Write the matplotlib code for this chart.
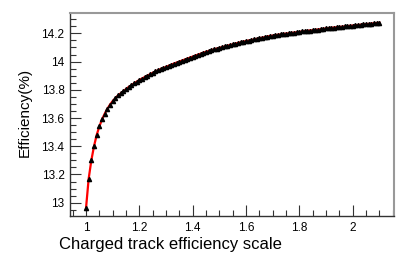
"""
Efficiency vs charged track efficiency scale.
"""

import numpy as np
import matplotlib
matplotlib.use('Agg')
import matplotlib.pyplot as plt
from matplotlib.ticker import MultipleLocator

plt.rcParams['font.family'] = ['Liberation Sans', 'DejaVu Sans']

# scale factor, 1.00 .. 2.10 in steps of 0.01
scale = [
    1.00, 1.01, 1.02, 1.03, 1.04, 1.05, 1.06, 1.07, 1.08, 1.09,
    1.10, 1.11, 1.12, 1.13, 1.14, 1.15, 1.16, 1.17, 1.18, 1.19,
    1.20, 1.21, 1.22, 1.23, 1.24, 1.25, 1.26, 1.27, 1.28, 1.29,
    1.30, 1.31, 1.32, 1.33, 1.34, 1.35, 1.36, 1.37, 1.38, 1.39,
    1.40, 1.41, 1.42, 1.43, 1.44, 1.45, 1.46, 1.47, 1.48, 1.49,
    1.50, 1.51, 1.52, 1.53, 1.54, 1.55, 1.56, 1.57, 1.58, 1.59,
    1.60, 1.61, 1.62, 1.63, 1.64, 1.65, 1.66, 1.67, 1.68, 1.69,
    1.70, 1.71, 1.72, 1.73, 1.74, 1.75, 1.76, 1.77, 1.78, 1.79,
    1.80, 1.81, 1.82, 1.83, 1.84, 1.85, 1.86, 1.87, 1.88, 1.89,
    1.90, 1.91, 1.92, 1.93, 1.94, 1.95, 1.96, 1.97, 1.98, 1.99,
    2.00, 2.01, 2.02, 2.03, 2.04, 2.05, 2.06, 2.07, 2.08, 2.09,
    2.10,
]

# efficiency in percent
efficiency = [
    12.960, 13.170, 13.300, 13.400, 13.480, 13.540, 13.590, 13.630, 13.665, 13.695,
    13.720, 13.740, 13.760, 13.775, 13.790, 13.805, 13.820, 13.832, 13.845, 13.857,
    13.870, 13.880, 13.890, 13.900, 13.910, 13.920, 13.930, 13.939, 13.947, 13.955,
    13.962, 13.970, 13.978, 13.986, 13.993, 14.000, 14.007, 14.014, 14.021, 14.028,
    14.035, 14.042, 14.049, 14.056, 14.063, 14.069, 14.075, 14.081, 14.087, 14.092,
    14.097, 14.102, 14.107, 14.112, 14.117, 14.122, 14.127, 14.132, 14.137, 14.141,
    14.145, 14.149, 14.153, 14.157, 14.161, 14.165, 14.169, 14.173, 14.177, 14.181,
    14.184, 14.187, 14.190, 14.193, 14.196, 14.198, 14.200, 14.203, 14.205, 14.208,
    14.210, 14.213, 14.215, 14.218, 14.220, 14.222, 14.225, 14.227, 14.230, 14.232,
    14.235, 14.237, 14.239, 14.241, 14.243, 14.245, 14.247, 14.249, 14.251, 14.253,
    14.255, 14.257, 14.259, 14.261, 14.263, 14.265, 14.267, 14.269, 14.271, 14.273,
    14.275,
]

fig = plt.figure(figsize=(4.15, 2.71), dpi=100)
ax = fig.add_axes([70 / 415, 55 / 271, 324 / 415, 203 / 271])

ax.plot(scale, efficiency, '-', color='red', linewidth=1.6, zorder=2)
ax.plot(scale, efficiency, '^', color='black', markersize=3, zorder=3)

ax.set_xlim(0.94, 2.155)
ax.set_ylim(12.906, 14.344)

ax.xaxis.set_minor_locator(MultipleLocator(0.05))
ax.yaxis.set_minor_locator(MultipleLocator(0.05))
ax.set_xticks([1.0, 1.2, 1.4, 1.6, 1.8, 2.0])
ax.set_xticklabels(['1', '1.2', '1.4', '1.6', '1.8', '2'])
ax.set_yticks([13.0, 13.2, 13.4, 13.6, 13.8, 14.0, 14.2])
ax.set_yticklabels(['13', '13.2', '13.4', '13.6', '13.8', '14', '14.2'])

ax.tick_params(which='both', direction='in', top=False, right=False,
               labelsize=8.5, color='#333333')
ax.tick_params(which='major', length=8, width=0.8, pad=4)
ax.tick_params(which='minor', length=4, width=0.8)

for side in ['left', 'bottom']:
    ax.spines[side].set_color('#333333')
    ax.spines[side].set_linewidth(1.0)
for side in ['top', 'right']:
    ax.spines[side].set_color('#999999')
    ax.spines[side].set_linewidth(1.5)

fig.text(282 / 415, 1 - 245 / 271, 'Charged track efficiency scale',
         ha='right', va='center', fontsize=12)
fig.text(25 / 415, 1 - 112 / 271, 'Efficiency(%)',
         ha='center', va='center', rotation=90, fontsize=11)

plt.savefig('out.png', dpi=100)
